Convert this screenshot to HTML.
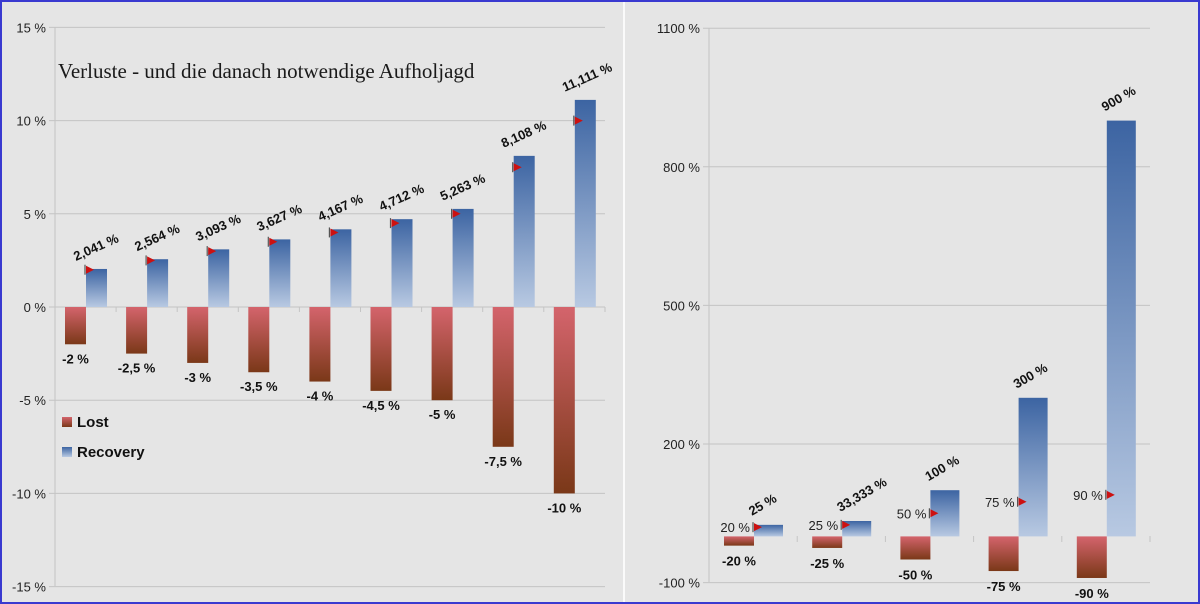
<!DOCTYPE html>
<html><head><meta charset="utf-8"><style>
html,body{margin:0;padding:0;background:#e4e4e4;}
svg{display:block;font-family:"Liberation Sans",sans-serif;}
</style></head><body>
<svg id="s" width="1200" height="604" xmlns="http://www.w3.org/2000/svg">
<defs>
<linearGradient id="gb" x1="0" y1="0" x2="0" y2="1"><stop offset="0" stop-color="#3c64a2"/><stop offset="1" stop-color="#b8c9e2"/></linearGradient>
<linearGradient id="gr" x1="0" y1="0" x2="0" y2="1"><stop offset="0" stop-color="#d4646c"/><stop offset="1" stop-color="#7a3818"/></linearGradient>
</defs>
<rect x="0" y="0" width="1200" height="604" fill="#e5e5e5"/>
<rect x="1" y="1" width="1198" height="602" fill="none" stroke="#3a3ad0" stroke-width="2"/>
<line x1="624" y1="2" x2="624" y2="602" stroke="#fafafa" stroke-width="2"/>
<g id="g"></g>
</svg>
<script>
var g=document.getElementById('g'),h='';
function t(x,y,s,o){o=o||{};h+='<text x="'+x+'" y="'+y+'" font-size="'+(o.fs||13)+'" fill="'+(o.fill||'#111')+'" text-anchor="'+(o.a||'start')+'"'+(o.b?' font-weight="bold"':'')+(o.r?' transform="rotate('+o.r+' '+x+' '+y+')"':'')+(o.ff?' font-family="'+o.ff+'"':'')+(o.it?' font-style="italic"':'')+'>'+s+'</text>';}
function r(x,y,w,hh,f){h+='<rect x="'+x+'" y="'+y+'" width="'+w+'" height="'+hh+'" fill="'+f+'"/>';}
function l(x1,y1,x2,y2,c){h+='<line x1="'+x1+'" y1="'+y1+'" x2="'+x2+'" y2="'+y2+'" stroke="'+(c||'#c4c4c4')+'" stroke-width="1"/>';}
function flag(x,y){h+='<line x1="'+x+'" y1="'+(y-5)+'" x2="'+x+'" y2="'+(y+5)+'" stroke="#555" stroke-width="1.2"/><polygon points="'+(x+1)+','+(y-4)+' '+(x+9)+','+y+' '+(x+1)+','+(y+4)+'" fill="#cc1111"/>';}
// left chart
var L0=55,L1=605,ly=function(v){return 307-v*18.64;};
[15,10,5,0,-5,-10,-15].forEach(function(v){var y=ly(v);l(L0-6,y,L1,y);t(46,y+5,v+' %',{a:'end',fs:13,fill:'#222'});});
l(L0,27,L0,586);
var lo=[2,2.5,3,3.5,4,4.5,5,7.5,10],re=['2,041','2,564','3,093','3,627','4,167','4,712','5,263','8,108','11,111'];
for(var i=0;i<9;i++){var s=L0+61.1*i;l(s,307,s,312);var rv=parseFloat(re[i].replace(',','.'));
r(s+10,307,21,lo[i]*18.64,'url(#gr)');r(s+31,ly(rv),21,rv*18.64,'url(#gb)');
flag(s+30,ly(lo[i]));t(s+20.5,ly(-lo[i])+19,'-'+String(lo[i]).replace('.',',')+' %',{a:'middle',b:1});
t(s+21,ly(rv)-8,re[i]+' %',{b:1,r:-24});}
l(L1,307,L1,312);
t(58,78,'Verluste - und die danach notwendige Aufholjagd',{fs:21,ff:'Liberation Serif',fill:'#1a1a1a'});
r(62,417,10,10,'url(#gr)');t(77,427,'Lost',{b:1,fs:15});
r(62,447,10,10,'url(#gb)');t(77,457,'Recovery',{b:1,fs:15});
// right chart
var R0=709,R1=1150,ry=function(v){return 536.4-v*0.462;};
[1100,800,500,200,-100].forEach(function(v){var y=ry(v);l(R0-6,y,R1,y);t(700,y+5,v+' %',{a:'end',fs:13,fill:'#222'});});
l(R0,28,R0,582);
var rl=[20,25,50,75,90],rr=['25','33,333','100','300','900'];
var W=(R1-R0)/5;
for(var i=0;i<5;i++){var s=R0+W*i;l(s,536,s,542);var rv=parseFloat(rr[i].replace(',','.'));
r(s+15,536.4,30,rl[i]*0.462,'url(#gr)');r(s+45,ry(rv),29,rv*0.462,'url(#gb)');
flag(s+44,ry(rl[i]));t(s+41,ry(rl[i])+5,rl[i]+' %',{a:'end',fill:'#222'});
t(s+30,ry(-rl[i])+20,'-'+rl[i]+' %',{a:'middle',b:1});
t(s+43,ry(rv)-9,rr[i]+' %',{b:1,r:-30});}
l(R1,536,R1,542);
g.innerHTML=h;
</script>
</body></html>
